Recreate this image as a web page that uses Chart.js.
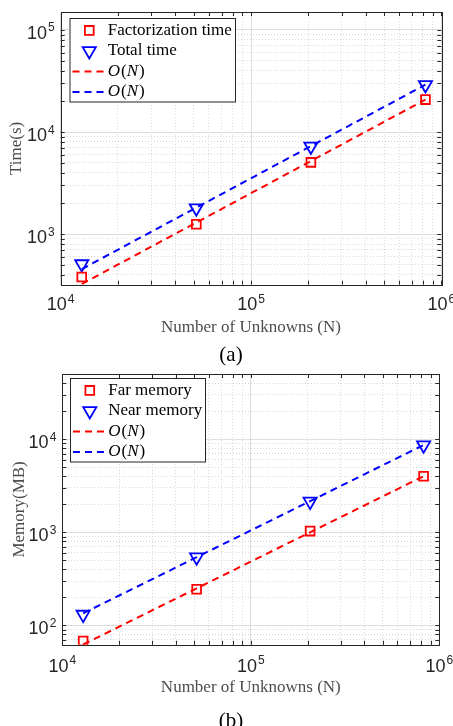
<!DOCTYPE html>
<html>
<head>
<meta charset="utf-8">
<script src="https://cdn.jsdelivr.net/npm/chart.js@4.4.1/dist/chart.umd.min.js"></script>
<style>
  body { margin: 0; background: #fff; }
  #wrap { position: relative; width: 453px; height: 726px; overflow: hidden; background: #fff; }
  canvas { position: absolute; left: 0; }
  .cap { position: absolute; width: 60px; text-align: center; line-height: 24px;
         font: 21px "Liberation Serif", "Times New Roman", serif; color: #000; }
</style>
</head>
<body>
<div id="wrap">
  <canvas id="chartA" width="453" height="345" style="top:0"></canvas>
  <div class="cap" style="left:201px; top:342px">(a)</div>
  <canvas id="chartB" width="453" height="345" style="top:362px"></canvas>
  <div class="cap" style="left:201px; top:708px">(b)</div>
</div>
<script>
// problem sizes (shared x values)
const unknowns = [12900, 51600, 206400, 825600];

// (a) time in seconds
const factorizationTime = [380, 1250, 5050, 20800];
const totalTime = [510, 1800, 7250, 29000];
const factorizationFit = [325, 1300, 5200, 20800];
const totalFit = [455, 1820, 7280, 29120];

// (b) memory in MB
const farMemory = [68, 245, 1030, 4000];
const nearMemory = [131, 540, 2140, 8600];
const farFit = [62.5, 250, 1000, 4000];
const nearFit = [135, 540, 2160, 8640];

const xRange = [1e4, 1e6];
const timeRange = [320, 1.5e5];
const memoryRange = [62, 5e4];

const SERIF = '"Liberation Serif", "Times New Roman", serif';
const SANS = '"Liberation Sans", Arial, sans-serif';
const RED = '#ff0000';
const BLUE = '#0000ff';
const AXIS = '#262626';

const supDigits = {'0':'⁰','1':'¹','2':'²','3':'³','4':'⁴','5':'⁵','6':'⁶','7':'⁷','8':'⁸','9':'⁹','-':'⁻'};

// exponent if v is a power of ten, else null
function decade(v) {
    const e = Math.log10(v);
    return Math.abs(e - Math.round(e)) > 1e-9 ? null : Math.round(e);
}

function powLabel(v) {
    const e = decade(v);
    if (e === null) return '';
    return '10' + String(e).split('').map(c => supDigits[c]).join('');
}

// 1..9 x 10^n ticks like matlab log axes
function logTicks(scale) {
    const list = [];
    const lo = Math.floor(Math.log10(scale.min));
    const hi = Math.ceil(Math.log10(scale.max));
    for (let e = lo; e <= hi; e++) {
        for (let k = 1; k <= 9; k++) {
            const v = k * Math.pow(10, e);
            if (v >= scale.min * 0.999 && v <= scale.max * 1.001) list.push({value: v, major: k === 1});
        }
    }
    scale.ticks = list;
}

function markerSet(label, ys, color, style) {
    return {
        label: label,
        data: unknowns.map((x, i) => ({x: x, y: ys[i]})),
        showLine: false,
        borderColor: color,
        backgroundColor: 'rgba(0,0,0,0)',
        pointStyle: style,
        pointRadius: style === 'rect' ? 6.2 : 7.6,
        pointRotation: style === 'triangle' ? 180 : 0,
        pointBorderWidth: 1.8
    };
}

function fitSet(label, ys, color) {
    return {
        label: label,
        data: unknowns.map((x, i) => ({x: x, y: ys[i]})),
        showLine: true,
        borderColor: color,
        borderWidth: 2,
        borderDash: [7, 5],
        pointRadius: 0,
        fill: false
    };
}

function drawMarker(ctx, style, x, y, r, color) {
    ctx.save();
    ctx.strokeStyle = color;
    ctx.lineWidth = 1.8;
    ctx.setLineDash([]);
    ctx.beginPath();
    if (style === 'rect') {
        const s = r * Math.SQRT1_2;
        ctx.rect(x - s, y - s, 2 * s, 2 * s);
    } else {
        let a = Math.PI;
        ctx.moveTo(x + Math.sin(a) * r, y - Math.cos(a) * r);
        a += 2 * Math.PI / 3;
        ctx.lineTo(x + Math.sin(a) * r, y - Math.cos(a) * r);
        a += 2 * Math.PI / 3;
        ctx.lineTo(x + Math.sin(a) * r, y - Math.cos(a) * r);
        ctx.closePath();
    }
    ctx.stroke();
    ctx.restore();
}

function drawLabel(ctx, text, x, y) {
    ctx.fillStyle = '#000';
    ctx.textBaseline = 'middle';
    ctx.textAlign = 'left';
    if (text !== 'O(N)') {
        ctx.font = '17px ' + SERIF;
        ctx.fillText(text, x, y);
        return;
    }
    const parts = [['O', true], ['(', false], ['N', true], [')', false]];
    for (const p of parts) {
        ctx.font = (p[1] ? 'italic ' : '') + '17px ' + SERIF;
        ctx.fillText(p[0], x, y);
        x += ctx.measureText(p[0]).width + (p[1] ? 1 : 0);
    }
}

// "10" with a raised exponent; align is 'center' or 'right'
function drawPow(ctx, e, x, baseY, align) {
    ctx.textBaseline = 'alphabetic';
    ctx.textAlign = 'left';
    ctx.fillStyle = AXIS;
    const exp = String(e);
    ctx.font = '18px ' + SANS;
    const wb = ctx.measureText('10').width;
    ctx.font = '12px ' + SANS;
    const we = ctx.measureText(exp).width;
    const x0 = align === 'center' ? x - (wb + we + 1) / 2 : x - (wb + we + 1);
    ctx.font = '18px ' + SANS;
    ctx.fillText('10', x0, baseY);
    ctx.font = '12px ' + SANS;
    ctx.fillText(exp, x0 + wb + 1, baseY - 7.5);
}

// box, inward ticks, tick labels and the legend
const frame = {
    id: 'frame',
    afterDraw(chart, args, opts) {
        const ctx = chart.ctx;
        const a = chart.chartArea;
        const xs = chart.scales.x, ys = chart.scales.y;
        ctx.save();
        ctx.strokeStyle = AXIS;
        ctx.lineWidth = 1;
        ctx.setLineDash([]);
        ctx.beginPath();
        xs.ticks.forEach(t => {
            const px = Math.round(xs.getPixelForValue(t.value)) + 0.5;
            ctx.moveTo(px, a.bottom); ctx.lineTo(px, a.bottom - 4);
            ctx.moveTo(px, a.top); ctx.lineTo(px, a.top + 4);
        });
        ys.ticks.forEach(t => {
            const py = Math.round(ys.getPixelForValue(t.value)) + 0.5;
            ctx.moveTo(a.left, py); ctx.lineTo(a.left + 4, py);
            ctx.moveTo(a.right, py); ctx.lineTo(a.right - 4, py);
        });
        ctx.stroke();
        ctx.strokeRect(Math.round(a.left) + 0.5, Math.round(a.top) + 0.5,
            Math.round(a.right - a.left), Math.round(a.bottom - a.top));

        xs.ticks.forEach(t => {
            const e = decade(t.value);
            if (e !== null) drawPow(ctx, e, xs.getPixelForValue(t.value), a.bottom + opts.xLabelDrop, 'center');
        });
        ys.ticks.forEach(t => {
            const e = decade(t.value);
            if (e !== null) drawPow(ctx, e, a.left - 6, ys.getPixelForValue(t.value) + 9, 'right');
        });

        const L = opts.box;
        ctx.fillStyle = '#fff';
        ctx.fillRect(L.x, L.y, L.w, L.h);
        ctx.strokeStyle = AXIS;
        ctx.strokeRect(L.x + 0.5, L.y + 0.5, L.w, L.h);
        chart.data.datasets.forEach((ds, i) => {
            const y = L.y + 12.4 + i * 20.5;
            if (ds.showLine) {
                ctx.save();
                ctx.strokeStyle = ds.borderColor;
                ctx.lineWidth = 2;
                ctx.setLineDash([7, 5]);
                ctx.beginPath();
                ctx.moveTo(L.x + 3, y);
                ctx.lineTo(L.x + 36, y);
                ctx.stroke();
                ctx.restore();
            } else {
                drawMarker(ctx, ds.pointStyle, L.x + 19.8, y, ds.pointRadius, ds.borderColor);
            }
            drawLabel(ctx, ds.label, L.x + 38.2, y);
        });
        ctx.restore();
    }
};

function axisStyle() {
    return {
        type: 'logarithmic',
        afterBuildTicks: logTicks,
        grid: {
            drawTicks: false,
            lineWidth: 1,
            color: c => (c.tick && c.tick.major) ? '#dedede' : '#d9d9d9'
        },
        border: {
            display: false,
            dash: c => (c.tick && c.tick.major) ? [] : [1, 2]
        },
        ticks: {
            display: false,
            autoSkip: false,
            maxRotation: 0,
            minRotation: 0,
            callback: v => powLabel(v)
        },
        title: {
            display: true,
            color: '#4d4d4d',
            font: {family: SERIF, size: 17}
        }
    };
}

function makeChart(id, sets, yRange, yTitle, cfg) {
    const x = axisStyle();
    x.min = xRange[0];
    x.max = xRange[1];
    x.title.text = 'Number of Unknowns (N)';
    x.title.padding = {top: 0, bottom: 0};
    x.afterFit = s => { s.height = cfg.xHeight; s.paddingLeft = 0; s.paddingRight = 0; };

    const y = axisStyle();
    y.min = yRange[0];
    y.max = yRange[1];
    y.title.text = yTitle;
    y.title.padding = {top: cfg.yTitlePad, bottom: 0};
    y.afterFit = s => { s.width = cfg.yWidth; s.paddingTop = 0; s.paddingBottom = 0; };

    return new Chart(document.getElementById(id), {
        type: 'scatter',
        data: {datasets: sets},
        options: {
            responsive: false,
            animation: false,
            events: [],
            layout: {padding: {left: 0, top: 12, right: cfg.padRight, bottom: cfg.padBottom}},
            plugins: {
                legend: {display: false},
                tooltip: {enabled: false},
                frame: {box: cfg.box, xLabelDrop: cfg.xLabelDrop}
            },
            scales: {x: x, y: y}
        },
        plugins: [frame]
    });
}

makeChart('chartA', [
    markerSet('Factorization time', factorizationTime, RED, 'rect'),
    markerSet('Total time', totalTime, BLUE, 'triangle'),
    fitSet('O(N)', factorizationFit, RED),
    fitSet('O(N)', totalFit, BLUE)
], timeRange, 'Time(s)', {
    xLabelDrop: 25.5, xHeight: 53.5, yWidth: 60.7, yTitlePad: 6.5, padRight: 11.7, padBottom: 6.8,
    box: {x: 69.5, y: 18, w: 165.5, h: 83.5}
});

makeChart('chartB', [
    markerSet('Far memory', farMemory, RED, 'rect'),
    markerSet('Near memory', nearMemory, BLUE, 'triangle'),
    fitSet('O(N)', farFit, RED),
    fitSet('O(N)', nearFit, BLUE)
], memoryRange, 'Memory(MB)', {
    xLabelDrop: 27, xHeight: 53.2, yWidth: 62.3, yTitlePad: 9.8, padRight: 13.7, padBottom: 9,
    box: {x: 70, y: 16, w: 135, h: 83.5}
});
</script>
</body>
</html>
